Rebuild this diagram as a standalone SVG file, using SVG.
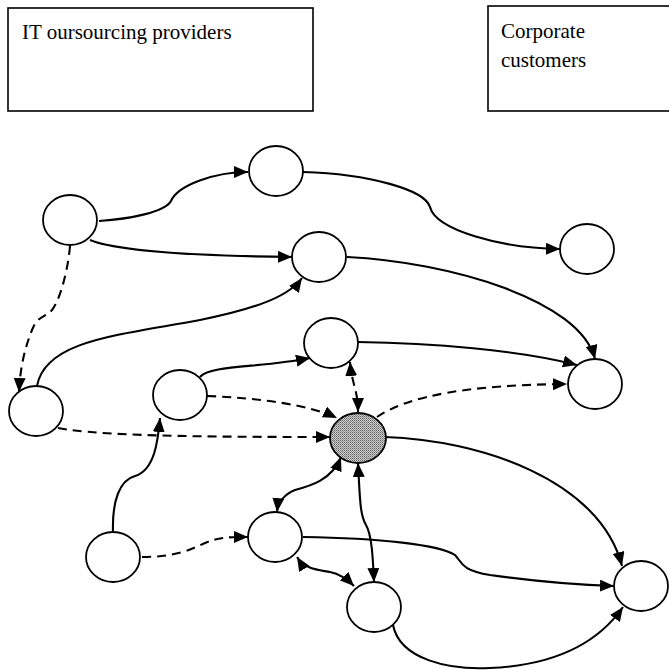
<svg xmlns="http://www.w3.org/2000/svg" width="669" height="670" viewBox="0 0 669 670">
<style>
.box{fill:#fff;stroke:#000;stroke-width:1.6}
.lbl{font-family:"Liberation Serif","Times New Roman",serif;font-size:21px;fill:#000}
.node{fill:#fff;stroke:#000;stroke-width:1.8}
.hub{fill:url(#dots);stroke:#000;stroke-width:1.8}
.e{fill:none;stroke:#000;stroke-width:2.1}
.d{fill:none;stroke:#000;stroke-width:2.1;stroke-dasharray:9 6}
.a{marker-end:url(#arr)}
.b{marker-start:url(#arr);marker-end:url(#arr)}
</style>
<defs>
<marker id="arr" markerUnits="userSpaceOnUse" markerWidth="15" markerHeight="13" refX="14" refY="6" orient="auto-start-reverse">
<path d="M0,0 L14,6 L0,12 z" fill="#000"/>
</marker>
<pattern id="dots" width="2" height="2" patternUnits="userSpaceOnUse">
<rect width="2" height="2" fill="#d0d0d0"/>
<rect width="1" height="1" fill="#606060"/>
<rect x="1" y="1" width="1" height="1" fill="#8a8a8a"/>
</pattern>
</defs>
<g id="box-providers">
<rect class="box" x="8" y="8" width="305" height="103"/>
<text class="lbl" x="22" y="39">IT oursourcing providers</text>
</g>
<g id="box-customers">
<rect class="box" x="488" y="6" width="190" height="105"/>
<text class="lbl" x="501" y="38">Corporate</text>
<text class="lbl" x="501" y="67">customers</text>
</g>
<g id="connectors">
<path class="e a" d="M99,221 C130,219 165,212 171,201 C178,185 215,172 248,172"/>
<path class="e a" d="M90,240 C120,252 200,256 292,257"/>
<path class="e a" d="M303,172 C370,174 425,190 430,207 C436,230 500,248 560,249"/>
<path class="e a" d="M347,257 C450,262 580,300 595,359"/>
<path class="e a" d="M37,386 C45,340 120,335 200,320 C260,308 290,295 302,278"/>
<path class="d a" d="M70,246 C68,270 60,300 52,310 C45,318 38,315 32,330 C24,350 20,370 19,392"/>
<path class="e a" d="M200,377 C210,365 260,368 310,358"/>
<path class="d a" d="M207,396 C260,398 310,405 337,418"/>
<path class="d a" d="M58,428 C100,436 200,437 330,437"/>
<path class="d b" d="M350,362 C352,385 358,390 358,412"/>
<path class="d a" d="M377,417 C410,395 470,385 567,384"/>
<path class="e a" d="M358,342 C430,343 520,350 577,365"/>
<path class="e a" d="M113,532 C112,500 120,480 135,476 C155,470 158,440 160,418"/>
<path class="d a" d="M142,557 C175,557 190,550 205,543 C220,537 230,537 248,537"/>
<path class="e b" d="M341,457 C332,480 310,486 295,490 C285,494 278,502 277,512"/>
<path class="e b" d="M358,463 C360,500 360,515 366,525 C372,535 373,560 374,582"/>
<path class="e a" d="M385,437 C480,440 600,480 622,566"/>
<path class="e a" d="M303,537 C380,538 440,545 455,555 C462,562 460,570 490,575 C540,582 580,585 614,586"/>
<path class="e b" d="M297,557 C305,570 320,570 330,572 C340,574 348,580 354,586"/>
<path class="e a" d="M393,625 C400,660 450,670 490,668 C560,665 600,640 623,607"/>
</g>
<g id="n-a"><ellipse class="node" cx="70" cy="220" rx="27" ry="25"/></g>
<g id="n-b"><ellipse class="node" cx="276" cy="171" rx="27" ry="25"/></g>
<g id="n-c"><ellipse class="node" cx="319" cy="257" rx="27" ry="25"/></g>
<g id="n-d"><ellipse class="node" cx="587" cy="249" rx="27" ry="25"/></g>
<g id="n-e"><ellipse class="node" cx="36" cy="411" rx="27" ry="25"/></g>
<g id="n-f"><ellipse class="node" cx="180" cy="395" rx="27" ry="25"/></g>
<g id="n-g"><ellipse class="node" cx="331" cy="343" rx="27" ry="25"/></g>
<g id="n-h"><ellipse class="hub" cx="358" cy="438" rx="28" ry="25"/></g>
<g id="n-i"><ellipse class="node" cx="595" cy="384" rx="27" ry="25"/></g>
<g id="n-j"><ellipse class="node" cx="275" cy="537" rx="27" ry="25"/></g>
<g id="n-k"><ellipse class="node" cx="374" cy="607" rx="27" ry="25"/></g>
<g id="n-l"><ellipse class="node" cx="641" cy="586" rx="27" ry="25"/></g>
<g id="n-m"><ellipse class="node" cx="113" cy="557" rx="27" ry="25"/></g>
</svg>
